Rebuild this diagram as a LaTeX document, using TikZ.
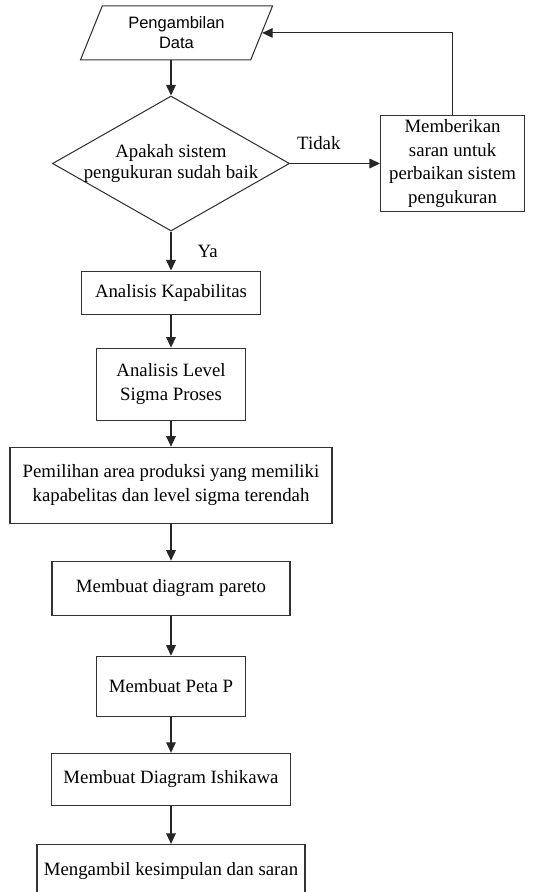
\documentclass[tikz,border=0pt]{standalone}
\usepackage{fontspec}
\setmainfont{Liberation Serif}
\newfontfamily\sansfont{Liberation Sans}
\usetikzlibrary{shapes.geometric, arrows.meta, positioning}

\begin{document}
\begin{tikzpicture}[
    block/.style={rectangle, draw=black!80, line width=0.6pt, inner sep=2pt, align=center, font=\fontsize{10.7pt}{13.6pt}\selectfont},
    decision/.style={diamond, draw=black!80, line width=0.6pt, minimum width=4.74cm, minimum height=2.7cm, inner sep=0pt},
    io/.style={trapezium, trapezium left angle=70, trapezium right angle=110, trapezium stretches=true, draw=black!80, line width=0.6pt, minimum width=3.86cm, minimum height=1.08cm, align=center, font=\sansfont\fontsize{9.4pt}{11.3pt}\selectfont},
    lbl/.style={font=\fontsize{10.7pt}{13pt}\selectfont},
    arr/.style={-{Triangle[length=6pt, width=5.5pt]}, line width=0.6pt, draw=black!85}
]
\useasboundingbox (0,0) rectangle (11,-17.84);
\node[decision, label={[align=center, font=\fontsize{10.7pt}{12.3pt}\selectfont]center:Apakah sistem\\pengukuran sudah baik}] (dia) at (3.42,-3.27) {};
\node[io, above=0.7cm of dia, xshift=0.11cm] (para) {Pengambilan\\Data};
\node[block, right=1.8cm of dia, minimum width=2.88cm, minimum height=1.88cm] (saran) {Memberikan\\saran untuk\\perbaikan sistem\\pengukuran};
\node[block, below=0.78cm of dia, minimum width=3.58cm, minimum height=0.86cm] (kap) {Analisis Kapabilitas};
\node[block, below=0.66cm of kap, minimum width=2.98cm, minimum height=1.44cm] (sigma) {Analisis Level\\Sigma Proses};
\node[block, below=0.52cm of sigma, minimum width=6.44cm, minimum height=1.52cm] (area) {Pemilihan area produksi yang memiliki\\kapabelitas dan level sigma terendah};
\node[block, below=0.74cm of area, minimum width=4.76cm, minimum height=1.08cm] (pareto) {Membuat diagram pareto};
\node[block, below=0.8cm of pareto, minimum width=2.98cm, minimum height=1.2cm] (peta) {Membuat Peta P};
\node[block, below=0.72cm of peta, minimum width=4.78cm, minimum height=1.04cm] (ishi) {Membuat Diagram Ishikawa};
\node[block, below=0.76cm of ishi, minimum width=5.36cm, minimum height=1.06cm] (simpul) {Mengambil kesimpulan dan saran};
\draw[arr] (dia.north |- para.south) -- (dia.north);
\draw[arr] (dia.east) -- node[lbl, pos=0.32, above=4pt] {Tidak} (saran.west);
\draw[arr] (saran.north) |- (para.east);
\draw[arr] (dia.south) -- node[lbl, right=11.5pt] {Ya} (kap.north);
\draw[arr] (kap) -- (sigma);
\draw[arr] (sigma) -- (area);
\draw[arr] (area) -- (pareto);
\draw[arr] (pareto) -- (peta);
\draw[arr] (peta) -- (ishi);
\draw[arr] (ishi) -- (simpul);
\end{tikzpicture}
\end{document}
